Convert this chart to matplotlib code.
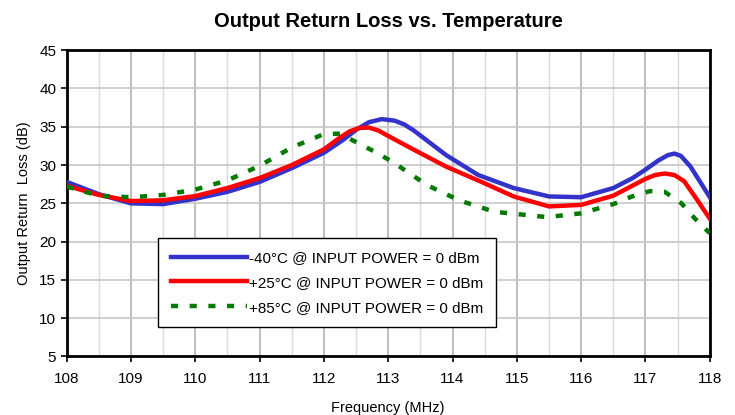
import matplotlib
matplotlib.use("Agg")
import matplotlib.pyplot as plt
from matplotlib.ticker import MultipleLocator

plt.rcParams['font.family'] = ['Liberation Sans', 'DejaVu Sans']

# -40°C
freq_m40 = [108, 108.5, 109, 109.5, 110, 110.5, 111, 111.5, 112, 112.3, 112.5, 112.7,
            112.9, 113.1, 113.25, 113.4, 113.65, 113.9, 114.4, 114.95, 115.5, 116.0,
            116.5, 116.8, 117.0, 117.2, 117.35, 117.45, 117.55, 117.7, 117.85, 118]
rl_m40 = [27.8, 26.2, 25.0, 24.9, 25.6, 26.5, 27.8, 29.6, 31.6, 33.3, 34.6, 35.6,
          36.0, 35.8, 35.3, 34.5, 32.9, 31.3, 28.7, 27.0, 25.9, 25.8,
          27.0, 28.3, 29.4, 30.6, 31.3, 31.5, 31.2, 29.8, 27.8, 25.8]

# +25°C
freq_p25 = [108, 108.5, 109, 109.5, 110, 110.5, 111, 111.5, 112, 112.25, 112.4, 112.55,
            112.7, 112.85, 113.0, 113.4, 113.9, 114.45, 114.95, 115.5, 116, 116.5,
            117.0, 117.15, 117.3, 117.45, 117.6, 117.8, 118]
rl_p25 = [27.3, 26.1, 25.3, 25.4, 25.95, 27.0, 28.3, 30.0, 32.05, 33.6, 34.4, 34.85,
          34.9, 34.5, 33.8, 32.0, 29.8, 27.8, 25.9, 24.6, 24.8, 26.0,
          28.2, 28.7, 28.9, 28.7, 27.9, 25.5, 23.0]

# +85°C
freq_p85 = [108, 108.5, 109, 109.5, 110, 110.5, 111, 111.5, 112, 112.25, 112.5, 112.8,
            113.07, 113.6, 114.1, 114.65, 115.47, 116.0, 116.5, 116.79, 117.07,
            117.3, 117.56, 117.77, 118]
rl_p85 = [27.2, 26.0, 25.8, 26.1, 26.8, 28.0, 29.9, 32.3, 34.05, 34.1, 33.0, 31.7,
          30.4, 27.4, 25.4, 23.9, 23.2, 23.7, 24.9, 25.9, 26.6,
          26.5, 25.0, 23.0, 21.1]

labels = ['-40°C @ INPUT POWER = 0 dBm',
          '+25°C @ INPUT POWER = 0 dBm',
          '+85°C @ INPUT POWER = 0 dBm']

fig = plt.figure(figsize=(7.35, 4.15), dpi=100)
ax = fig.add_axes([0.0907, 0.141, 0.875, 0.738])

ax.plot(freq_m40, rl_m40, color='#3333cc', lw=3.2, label=labels[0], zorder=3)
ax.plot(freq_p25, rl_p25, color='#ff0000', lw=3.2, label=labels[1], zorder=4)
ax.plot(freq_p85, rl_p85, color='#007a00', lw=3.2, dashes=(1.6, 2.6),
        label=labels[2], zorder=5)

ax.set_xlim(108, 118)
ax.set_ylim(5, 45)
ax.xaxis.set_major_locator(MultipleLocator(1))
ax.xaxis.set_minor_locator(MultipleLocator(0.5))
ax.yaxis.set_major_locator(MultipleLocator(5))

ax.grid(which='major', axis='x', color='#c0c0c0', lw=1.5)
ax.grid(which='minor', axis='x', color='#dadada', lw=1.0)
ax.grid(which='major', axis='y', color='#c8c8c8', lw=1.2)
ax.set_axisbelow(True)

for s in ax.spines.values():
    s.set_linewidth(2)
ax.tick_params(which='major', direction='out', length=4, width=1.2, labelsize=11)
ax.tick_params(axis='x', which='major', pad=7)
ax.tick_params(which='minor', length=0)

ax.set_title('Output Return Loss vs. Temperature', fontsize=14.5, fontweight='bold', pad=17)
ax.set_xlabel('Frequency (MHz)', fontsize=10.5, labelpad=11)
ax.set_ylabel('Output Return  Loss (dB)', fontsize=10.5, labelpad=6)

leg = ax.legend(loc='upper left', bbox_to_anchor=(0.142, 0.387), borderaxespad=0,
                fontsize=10.9, handlelength=5.0, handletextpad=0.15, fancybox=False,
                framealpha=1, edgecolor='black', labelspacing=0.72, borderpad=0.85)
leg.get_frame().set_linewidth(1)

fig.savefig('out.png', dpi=100)
